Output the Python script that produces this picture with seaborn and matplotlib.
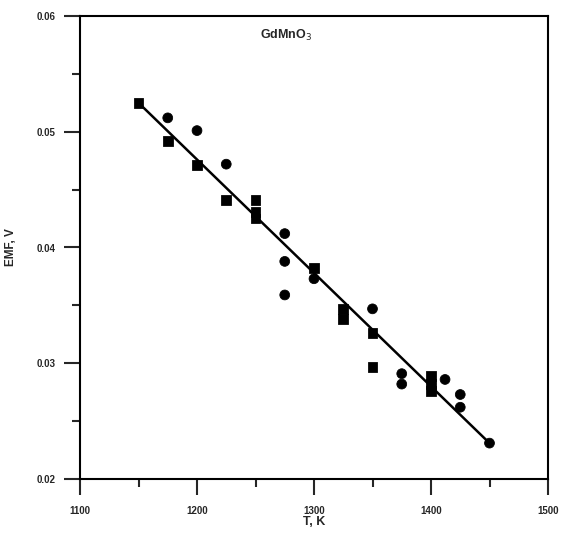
import numpy as np
import pandas as pd
import matplotlib
matplotlib.use("Agg")
import matplotlib.pyplot as plt
from matplotlib.ticker import MultipleLocator, FixedLocator
import seaborn as sns

sns.set_style("white")
plt.rcParams['font.family'] = ['Liberation Sans', 'DejaVu Sans']

# Data
sq_T = [1150, 1175, 1200, 1225, 1250, 1250, 1250, 1300, 1325, 1325, 1350, 1350, 1400, 1400, 1400]
sq_E = [0.0525, 0.0492, 0.0471, 0.0441, 0.0441, 0.0431, 0.0425, 0.0382, 0.0347, 0.0338, 0.0326, 0.0297, 0.0289, 0.0282, 0.0276]
ci_T = [1175, 1200, 1225, 1275, 1275, 1275, 1300, 1350, 1375, 1375, 1412, 1425, 1425, 1450]
ci_E = [0.0512, 0.0501, 0.0472, 0.0412, 0.0388, 0.0359, 0.0373, 0.0347, 0.0291, 0.0282, 0.0286, 0.0273, 0.0262, 0.0231]
fit_T = [1150, 1450]
fit_E = [0.0525, 0.0231]
x_ticks = [1100, 1200, 1300, 1400, 1500]
y_ticks = [0.02, 0.03, 0.04, 0.05, 0.06]
y_labels = ["0.02", "0.03", "0.04", "0.05", "0.06"]

df = pd.DataFrame({
    "T": sq_T + ci_T,
    "E": sq_E + ci_E,
    "kind": ["sq"] * len(sq_T) + ["ci"] * len(ci_T),
})
fit = pd.DataFrame({"T": fit_T, "E": fit_E})

fig = plt.figure(figsize=(5.64, 5.33), dpi=100)
ax = fig.add_axes([80/564, 1-479/533, (548-80)/564, (479-16)/533])

sns.lineplot(data=fit, x="T", y="E", color="black", linewidth=1.8, ax=ax)
sns.scatterplot(data=df, x="T", y="E", style="kind", markers={"sq": "s", "ci": "o"},
                color="black", s=50, edgecolor="black", legend=False, ax=ax, zorder=3)

ax.set_xlim(1100, 1500)
ax.set_ylim(0.02, 0.06)
ax.xaxis.set_major_locator(FixedLocator(x_ticks))
ax.xaxis.set_minor_locator(MultipleLocator(50))
ax.yaxis.set_major_locator(FixedLocator(y_ticks))
ax.set_yticklabels(y_labels)
ax.yaxis.set_minor_locator(MultipleLocator(0.005))
ax.tick_params(axis="both", which="major", direction="out", length=11.5, width=1.5,
               labelsize=7, pad=6, left=True, bottom=True)
ax.tick_params(axis="both", which="minor", direction="out", length=6, width=1.5,
               left=True, bottom=True)
ax.tick_params(axis="x", which="major", pad=8)
for lab in ax.get_xticklabels() + ax.get_yticklabels():
    lab.set_fontweight("bold")

for sp in ax.spines.values():
    sp.set_visible(True)
    sp.set_linewidth(1.5)
    sp.set_color("black")

ax.set_xlabel("T, K", fontsize=9, fontweight="bold", labelpad=0)
ax.set_ylabel("EMF, V", fontsize=8.5, fontweight="bold", labelpad=14)
ax.text(0.44, 0.958, "GdMnO$_3$", transform=ax.transAxes, ha="center", va="center",
        fontsize=9, fontweight="bold")

fig.savefig("out.png", dpi=100)
